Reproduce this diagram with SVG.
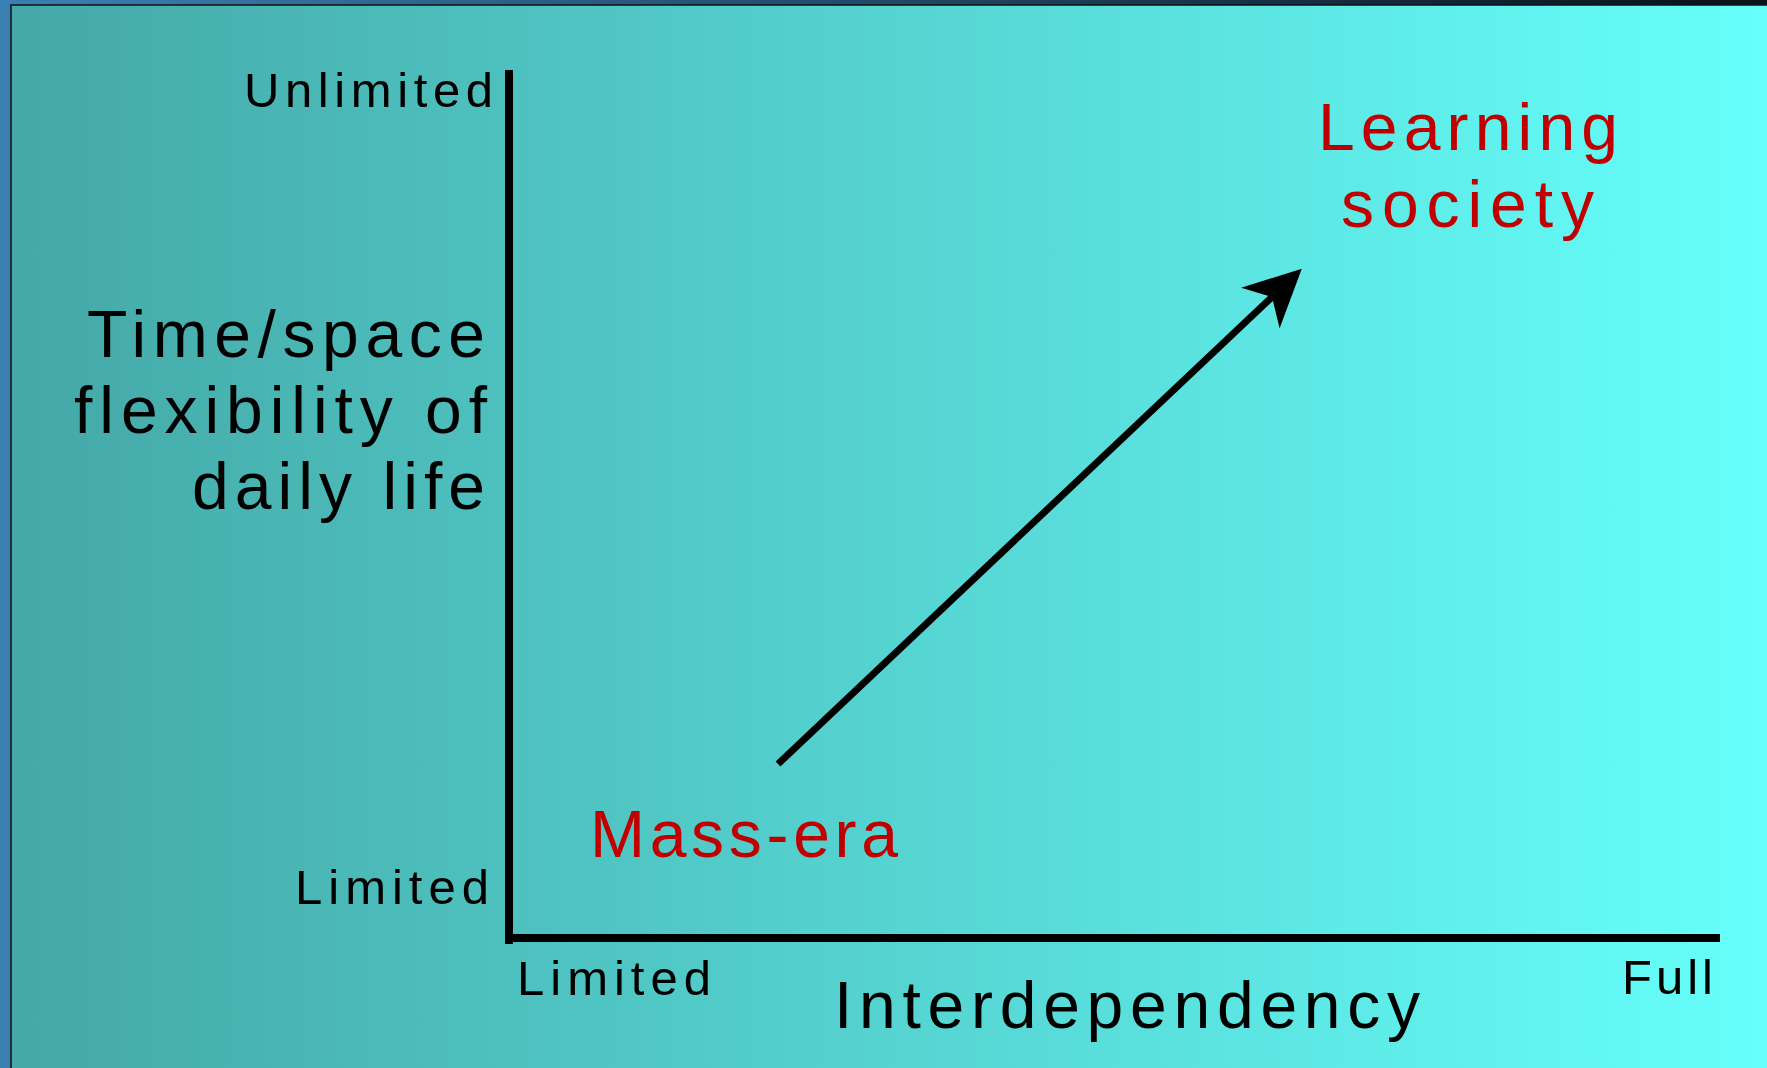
<svg xmlns="http://www.w3.org/2000/svg" width="1767" height="1068" viewBox="0 0 1767 1068">
  <defs>
    <linearGradient id="outerGrad" gradientUnits="userSpaceOnUse" x1="0" y1="0" x2="1767" y2="0">
      <stop offset="0" stop-color="#3b80b3"/>
      <stop offset="1" stop-color="#08121a"/>
    </linearGradient>
    <linearGradient id="innerGrad" gradientUnits="userSpaceOnUse" x1="11" y1="0" x2="1767" y2="0">
      <stop offset="0" stop-color="#44a8a7"/>
      <stop offset="1" stop-color="#66fffb"/>
    </linearGradient>
    <marker id="arrowHead" markerUnits="userSpaceOnUse" viewBox="0 0 57 56" refX="16" refY="28" markerWidth="57" markerHeight="56" orient="auto">
      <path d="M57,28 L0,0 L16,28 L0,56 Z" fill="#000"/>
    </marker>
    <style>
      .lbl { font-family: "Liberation Sans", Arial, sans-serif; fill: #000; }
      .sm { font-size: 49px; }
      .lg { font-size: 66px; }
      .red { fill: #c00000; }
      .axis { stroke: #000; stroke-width: 8; fill: none; }
      .conn { stroke: #000; stroke-width: 7; fill: none; }
    </style>
  </defs>

  <rect x="0" y="0" width="1767" height="1068" fill="url(#outerGrad)"/>
  <rect x="11" y="5" width="1770" height="1080" fill="url(#innerGrad)" stroke="#111" stroke-width="1.5"/>

  <g id="axes">
    <line class="axis" x1="509" y1="70" x2="509" y2="944"/>
    <line class="axis" x1="505" y1="938" x2="1720" y2="938"/>
  </g>

  <g id="y-axis-label">
    <text class="lbl lg" x="87" y="357" textLength="398" lengthAdjust="spacing">Time/space</text>
    <text class="lbl lg" x="74" y="433" textLength="413" lengthAdjust="spacing">flexibility of</text>
    <text class="lbl lg" x="192" y="509" textLength="293" lengthAdjust="spacing">daily life</text>
  </g>

  <g id="y-max">
    <text class="lbl sm" x="244" y="107" textLength="249" lengthAdjust="spacing">Unlimited</text>
  </g>
  <g id="y-min">
    <text class="lbl sm" x="295" y="904" textLength="194" lengthAdjust="spacing">Limited</text>
  </g>
  <g id="x-min">
    <text class="lbl sm" x="517" y="995" textLength="194" lengthAdjust="spacing">Limited</text>
  </g>
  <g id="x-max">
    <text class="lbl sm" x="1622" y="994" textLength="91" lengthAdjust="spacing">Full</text>
  </g>
  <g id="x-axis-label">
    <text class="lbl lg" x="834" y="1028" textLength="586" lengthAdjust="spacing">Interdependency</text>
  </g>

  <g id="mass-era">
    <text class="lbl lg red" x="590" y="857" textLength="308" lengthAdjust="spacing">Mass-era</text>
  </g>
  <g id="learning-society">
    <text class="lbl lg red" x="1318" y="150" textLength="300" lengthAdjust="spacing">Learning</text>
    <text class="lbl lg red" x="1341" y="227" textLength="253" lengthAdjust="spacing">society</text>
  </g>

  <g id="connectors">
    <line class="conn" x1="778" y1="764" x2="1272" y2="297" marker-end="url(#arrowHead)"/>
  </g>
</svg>
